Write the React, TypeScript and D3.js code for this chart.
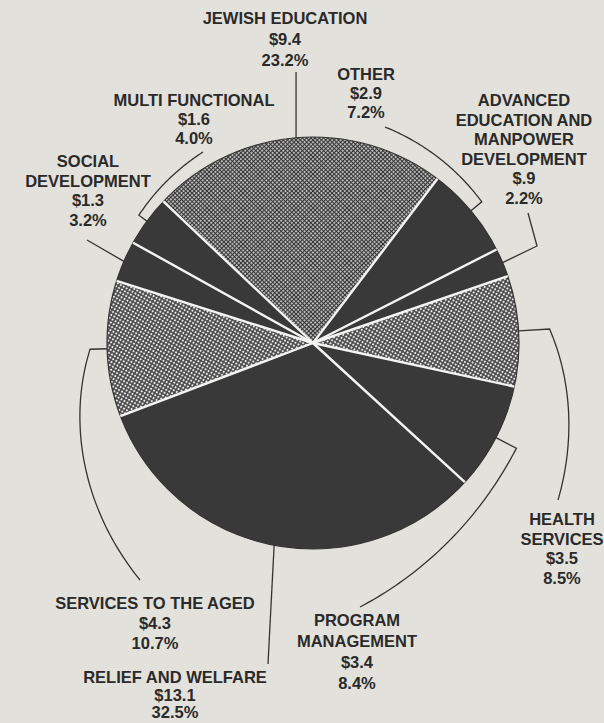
import React from 'react';
import * as d3 from 'd3';

// ---- data ----
const categories = [
  'JEWISH EDUCATION',
  'OTHER',
  'ADVANCED EDUCATION AND MANPOWER DEVELOPMENT',
  'HEALTH SERVICES',
  'PROGRAM MANAGEMENT',
  'RELIEF AND WELFARE',
  'SERVICES TO THE AGED',
  'SOCIAL DEVELOPMENT',
  'MULTI FUNCTIONAL',
];
const amounts = [9.4, 2.9, 0.9, 3.5, 3.4, 13.1, 4.3, 1.3, 1.6];
const amountLabels = ['$9.4', '$2.9', '$.9', '$3.5', '$3.4', '$13.1', '$4.3', '$1.3', '$1.6'];
const percentLabels = ['23.2%', '7.2%', '2.2%', '8.5%', '8.4%', '32.5%', '10.7%', '3.2%', '4.0%'];
const nameLines = [
  ['JEWISH EDUCATION'],
  ['OTHER'],
  ['ADVANCED', 'EDUCATION AND', 'MANPOWER', 'DEVELOPMENT'],
  ['HEALTH', 'SERVICES'],
  ['PROGRAM', 'MANAGEMENT'],
  ['RELIEF AND WELFARE'],
  ['SERVICES TO THE AGED'],
  ['SOCIAL', 'DEVELOPMENT'],
  ['MULTI FUNCTIONAL'],
];

// ---- styles / layout (not data) ----
const fillFor: Record<string, string> = {
  'JEWISH EDUCATION': 'url(#cross)',
  'HEALTH SERVICES': 'url(#dots)',
  'SERVICES TO THE AGED': 'url(#dots)',
};
const DARK = '#393939';

type Leader =
  | { type: 'vertical'; toY: number }
  | { type: 'line'; end: [number, number] }
  | { type: 'poly'; pts: [number, number][] }
  | { type: 'spiral'; tick: number; end: [number, number]; p: number };

const layout: Record<string, { x: number; y: number; gap: number; leader: Leader }> = {
  'JEWISH EDUCATION': { x: 285, y: 18, gap: 21, leader: { type: 'vertical', toY: 72 } },
  'OTHER': { x: 366, y: 74, gap: 19, leader: { type: 'spiral', tick: 14, end: [385, 127], p: 1 } },
  'ADVANCED EDUCATION AND MANPOWER DEVELOPMENT': {
    x: 524, y: 100, gap: 19.5, leader: { type: 'poly', pts: [[537, 246], [528, 213]] },
  },
  'HEALTH SERVICES': { x: 562, y: 519, gap: 19.7, leader: { type: 'spiral', tick: 31, end: [558, 500], p: 1 } },
  'PROGRAM MANAGEMENT': { x: 357, y: 620, gap: 21, leader: { type: 'spiral', tick: 23, end: [360, 607], p: 2 } },
  'RELIEF AND WELFARE': { x: 175, y: 677, gap: 17.5, leader: { type: 'line', end: [268, 664] } },
  'SERVICES TO THE AGED': { x: 155, y: 603, gap: 20, leader: { type: 'spiral', tick: 17, end: [140, 580], p: 1 } },
  'SOCIAL DEVELOPMENT': { x: 88, y: 161, gap: 19.7, leader: { type: 'line', end: [87, 240] } },
  'MULTI FUNCTIONAL': { x: 194, y: 100, gap: 19, leader: { type: 'spiral', tick: 10, end: [203, 152], p: 1 } },
};

export default function App() {
  const W = 604, H = 723;
  const cx = 313, cy = 343, R = 206;
  const start = (-46.6 * Math.PI) / 180;

  const pie = d3
    .pie<number>()
    .sort(null)
    .value((d) => d)
    .startAngle(start)
    .endAngle(start + 2 * Math.PI);
  const arcs = pie(amounts);
  const arcGen = d3.arc<d3.PieArcDatum<number>>().innerRadius(0).outerRadius(R);

  const P = (a: number, r: number): [number, number] => [cx + r * Math.sin(a), cy - r * Math.cos(a)];
  const line = d3.line<[number, number]>().curve(d3.curveLinear);

  const leaderPath = (i: number): string => {
    const name = categories[i];
    const L = layout[name].leader;
    const a = (arcs[i].startAngle + arcs[i].endAngle) / 2;
    const edge = P(a, R);
    if (L.type === 'vertical') {
      return line([edge, [edge[0], L.toY]]) || '';
    }
    if (L.type === 'line') {
      return line([edge, L.end]) || '';
    }
    if (L.type === 'poly') {
      return line([edge, ...L.pts]) || '';
    }
    const r0 = R + L.tick;
    const ex = L.end[0] - cx, ey = L.end[1] - cy;
    let a1 = Math.atan2(ex, -ey);
    const r1 = Math.hypot(ex, ey);
    while (a1 - a > Math.PI) a1 -= 2 * Math.PI;
    while (a1 - a < -Math.PI) a1 += 2 * Math.PI;
    const pts: [number, number][] = [edge];
    const N = 60;
    for (let k = 0; k <= N; k++) {
      const t = k / N;
      pts.push(P(a + (a1 - a) * t, r0 + (r1 - r0) * Math.pow(t, L.p)));
    }
    return line(pts) || '';
  };

  const font = {
    fontFamily: '"Liberation Sans", Arial, Helvetica, sans-serif',
    fontWeight: 700 as const,
    fontSize: 16.5,
    fill: '#2a2a2a',
  };

  return (
    <svg
      width={W}
      height={H}
      viewBox={`0 0 ${W} ${H}`}
      style={{ position: 'absolute', left: 0, top: 0, display: 'block' }}
    >
      <defs>
        <pattern id="dots" width={3.4} height={3.4} patternUnits="userSpaceOnUse" patternTransform="rotate(30)">
          <rect width={3.4} height={3.4} fill="#4a4a4a" />
          <circle cx={1.7} cy={1.7} r={1.05} fill="#efefef" />
        </pattern>
        <pattern id="cross" width={3} height={3} patternUnits="userSpaceOnUse" patternTransform="rotate(45)">
          <rect width={3} height={3} fill="#bdbdbd" />
          <path d="M0 0.5H3M0.5 0V3" stroke="#353535" strokeWidth={1.1} />
        </pattern>
      </defs>
      <rect x={0} y={0} width={W} height={H} fill="#e3e1db" />

      <g transform={`translate(${cx},${cy})`}>
        {arcs.map((d, i) => (
          <path key={categories[i]} d={arcGen(d) || ''} fill={fillFor[categories[i]] || DARK} />
        ))}
        <circle r={R} fill="none" stroke="#333" strokeWidth={1.2} />
        {arcs.map((d, i) => {
          const x = R * Math.sin(d.startAngle), y = -R * Math.cos(d.startAngle);
          return <line key={'sep' + i} x1={0} y1={0} x2={x} y2={y} stroke="#f4f4f2" strokeWidth={2.4} />;
        })}
      </g>

      {categories.map((c, i) => (
        <path key={'ld' + i} d={leaderPath(i)} fill="none" stroke="#333" strokeWidth={1.3} />
      ))}

      {categories.map((c, i) => {
        const lay = layout[c];
        const lines = [...nameLines[i], amountLabels[i], percentLabels[i]];
        return (
          <text key={'lb' + i} textAnchor="middle" {...font}>
            {lines.map((t, k) => (
              <tspan key={k} x={lay.x} y={lay.y + k * lay.gap + 6}>
                {t}
              </tspan>
            ))}
          </text>
        );
      })}
    </svg>
  );
}
